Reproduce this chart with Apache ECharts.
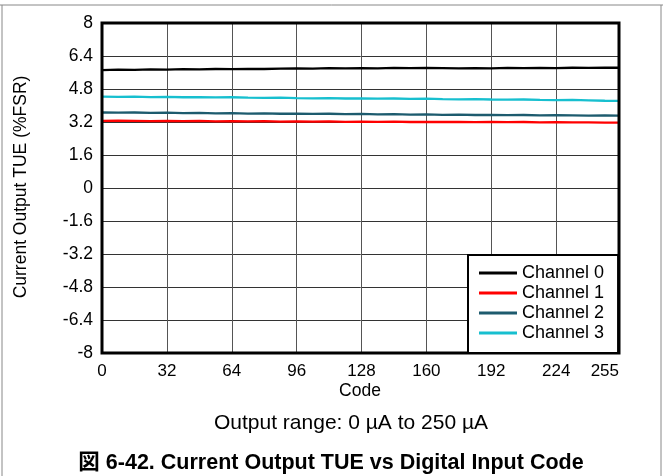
<!DOCTYPE html>
<html>
<head>
<meta charset="utf-8">
<script src="https://cdn.jsdelivr.net/npm/echarts@6/dist/echarts.min.js"></script>
<style>
html,body{margin:0;padding:0;background:#fff;}
#chart{width:663px;height:476px;}
</style>
</head>
<body>
<div id="chart"></div>
<script>
const codes = [0,8,16,24,32,40,48,56,64,72,80,88,96,104,112,120,128,136,144,152,160,168,176,184,192,200,208,216,224,232,240,248,255];
const channel0 = [5.72,5.74,5.73,5.75,5.74,5.76,5.75,5.77,5.76,5.78,5.77,5.79,5.80,5.79,5.81,5.80,5.81,5.80,5.82,5.81,5.82,5.81,5.80,5.81,5.80,5.82,5.81,5.82,5.81,5.83,5.82,5.83,5.83];
const channel1 = [3.25,3.26,3.25,3.24,3.25,3.24,3.25,3.23,3.24,3.23,3.24,3.22,3.23,3.22,3.23,3.21,3.22,3.21,3.22,3.20,3.21,3.20,3.21,3.19,3.20,3.19,3.20,3.18,3.19,3.18,3.18,3.17,3.17];
const channel2 = [3.66,3.65,3.66,3.64,3.65,3.63,3.64,3.62,3.63,3.61,3.62,3.60,3.61,3.59,3.60,3.58,3.59,3.57,3.58,3.56,3.57,3.55,3.56,3.54,3.55,3.53,3.54,3.52,3.53,3.52,3.51,3.52,3.51];
const channel3 = [4.43,4.42,4.43,4.41,4.42,4.40,4.41,4.39,4.40,4.38,4.37,4.38,4.36,4.35,4.36,4.34,4.35,4.33,4.34,4.32,4.33,4.31,4.30,4.31,4.29,4.28,4.29,4.27,4.26,4.27,4.25,4.23,4.22];
const seriesNames = ['Channel 0','Channel 1','Channel 2','Channel 3'];
const seriesColors = ['#000000','#ff0000','#1d5b6e','#17bfcf'];
const yTicks = {min:-8, max:8, interval:1.6};
const xTicks = {min:0, max:255, interval:32};

const FONT = '"Liberation Sans", Arial, "Noto Sans CJK JP", sans-serif';
const allData = [channel0, channel1, channel2, channel3];

const chart = echarts.init(document.getElementById('chart'), null, {renderer:'canvas'});
chart.setOption({
  animation:false,
  backgroundColor:'#fff',
  grid:{left:102, right:44, top:23, bottom:123, show:true, borderColor:'#000', borderWidth:3, backgroundColor:'transparent', z:10},
  xAxis:{
    type:'value', min:xTicks.min, max:xTicks.max, interval:xTicks.interval,
    axisLine:{show:false}, axisTick:{show:false},
    axisLabel:{color:'#000', fontSize:17, fontFamily:FONT, margin:10, showMaxLabel:true, showMinLabel:true, alignMaxLabel:'right'},
    splitLine:{show:true, lineStyle:{color:'#555', width:1}}
  },
  yAxis:{
    type:'value', min:yTicks.min, max:yTicks.max, interval:yTicks.interval,
    axisLine:{show:false}, axisTick:{show:false},
    axisLabel:{color:'#000', fontSize:17.5, fontFamily:FONT, margin:9,
      formatter:v => String(+(+v).toFixed(1))},
    splitLine:{show:true, lineStyle:{color:'#333', width:1}}
  },
  legend:{
    left:468, top:255, orient:'vertical',
    data:seriesNames.map(n => ({name:n, icon:'rect'})),
    itemWidth:38, itemHeight:3, itemGap:2, itemStyle:{borderWidth:0},
    textStyle:{fontSize:18, fontFamily:FONT, color:'#000', lineHeight:18},
    backgroundColor:'#fff', borderColor:'#000', borderWidth:2,
    padding:[9,14,11,11], z:20
  },
  series: seriesNames.map((n,i) => ({
    name:n, type:'line', showSymbol:false, symbol:'none', z:5,
    color:seriesColors[i],
    lineStyle:{width:2.3, color:seriesColors[i]},
    data: codes.map((c,j) => [c, allData[i][j]])
  })),
  graphic:[
    {type:'line', shape:{x1:0,y1:5,x2:663,y2:5}, style:{stroke:'#888', lineWidth:1}, silent:true},
    {type:'line', shape:{x1:2,y1:5,x2:2,y2:476}, style:{stroke:'#888', lineWidth:1}, silent:true},
    {type:'line', shape:{x1:661,y1:5,x2:661,y2:476}, style:{stroke:'#888', lineWidth:1}, silent:true},
    {type:'text', x:21, y:187, rotation:Math.PI/2, style:{text:'Current Output TUE (%FSR)', fontSize:17.5, fontFamily:FONT, fill:'#000', align:'center', verticalAlign:'middle'}},
    {type:'text', x:360, y:391, style:{text:'Code', fontSize:17.5, fontFamily:FONT, fill:'#000', align:'center', verticalAlign:'middle'}},
    {type:'text', x:351, y:423, style:{text:'Output range: 0 µA to 250 µA', fontSize:21, fontFamily:FONT, fill:'#000', align:'center', verticalAlign:'middle'}},
    {type:'text', x:331, y:463, style:{text:'図 6-42. Current Output TUE vs Digital Input Code', fontSize:21.5, fontWeight:'bold', fontFamily:FONT, fill:'#000', align:'center', verticalAlign:'middle'}}
  ]
});
</script>
</body>
</html>
